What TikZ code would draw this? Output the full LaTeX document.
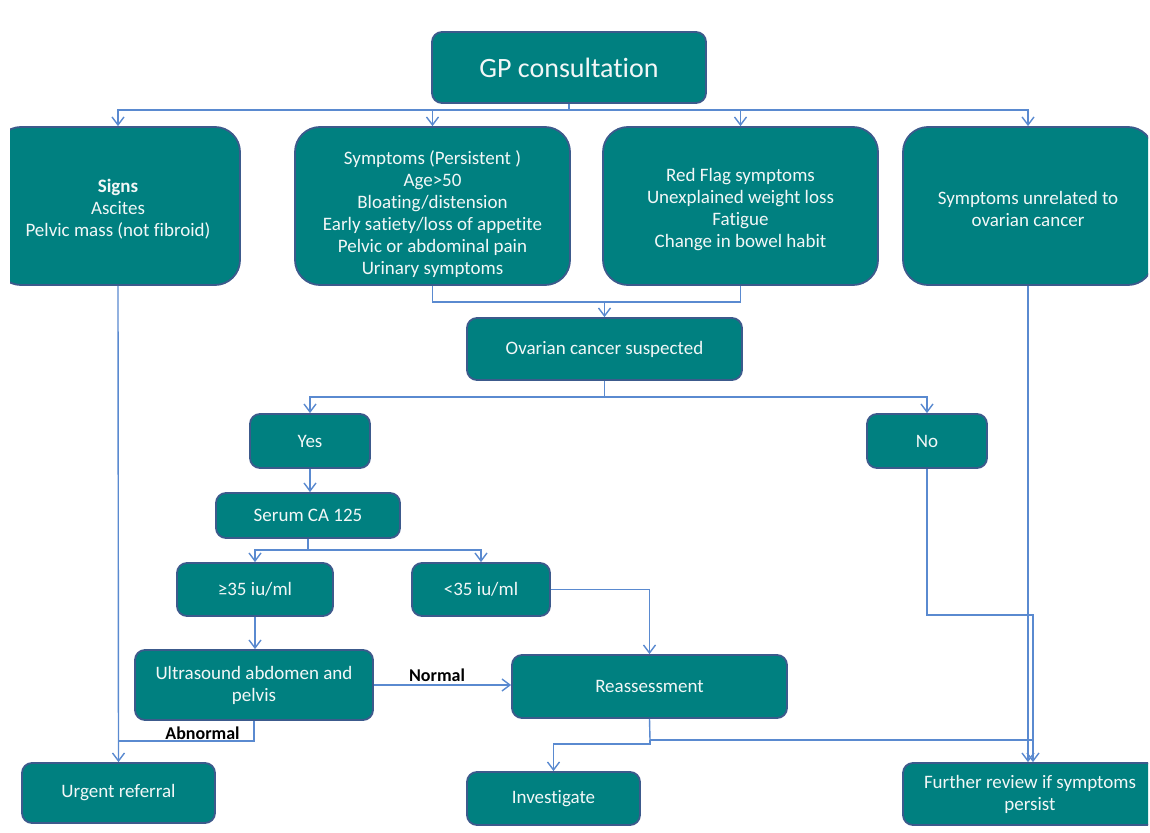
\documentclass[tikz,border=0pt]{standalone}
\usepackage{fontspec}
\setmainfont{Carlito}[RawFeature={-liga;-clig;-calt;-dlig}]
\usetikzlibrary{arrows.meta}
\definecolor{boxfill}{HTML}{008080}
\definecolor{boxedge}{HTML}{3C5A8C}
\definecolor{boxtext}{HTML}{F2F7F7}
\definecolor{conn}{HTML}{5A8AD0}
\tikzset{
  box/.style={rectangle, rounded corners=10pt, fill=boxfill, draw=boxedge, line width=1.8pt,
    text=boxtext, align=center, inner sep=0pt, font=\fontsize{19}{22}\selectfont},
  bigbox/.style={box, rounded corners=25pt},
  line/.style={draw=conn, line width=1.4pt},
  arr/.style={line, -{Straight Barb[length=8pt,width=12pt,line width=1.4pt]}},
  lbl/.style={font=\bfseries\fontsize{18}{20}\selectfont, text=black, inner sep=0pt}
}
\begin{document}
\begin{tikzpicture}[x=1pt,y=-1pt]
\useasboundingbox (0,0) rectangle (1150,832);
\fill[white] (0,0) rectangle (1150,832);
\begin{scope}
\clip (10,0) rectangle (1148,832);
% nodes
\node[box, minimum width=274pt, minimum height=71pt, font=\fontsize{28}{32}\selectfont] (gp) at (569,67.5) {GP consultation};
\node[bigbox, minimum width=244pt, minimum height=158pt] (signs) at (118,206) {\rule{0pt}{19pt}\textbf{Signs}\\Ascites\\Pelvic mass (not fibroid)};
\node[bigbox, minimum width=275pt, minimum height=158pt] (sym) at (432.5,206) {\rule{0pt}{30pt}Symptoms (Persistent )\\Age>50\\Bloating/distension\\Early satiety/loss of appetite\\Pelvic or abdominal pain\\Urinary symptoms};
\node[bigbox, minimum width=275pt, minimum height=158pt] (red) at (740.5,206) {\rule{0pt}{20pt}Red Flag symptoms\\Unexplained weight loss\\Fatigue\\Change in bowel habit};
\node[bigbox, minimum width=250pt, minimum height=158pt] (unrel) at (1028,206) {\rule{0pt}{19pt}Symptoms unrelated to\\ovarian cancer};
\node[box, minimum width=275pt, minimum height=62pt] (ovar) at (604.5,349) {Ovarian cancer suspected};
\node[box, minimum width=120pt, minimum height=54pt] (yes) at (310,441) {Yes};
\node[box, minimum width=120pt, minimum height=54pt] (no) at (927,441) {No};
\node[box, minimum width=184pt, minimum height=45pt] (serum) at (308,515.5) {Serum CA 125};
\node[box, minimum width=156pt, minimum height=53pt] (ge) at (255,589.5) {≥35 iu/ml};
\node[box, minimum width=138pt, minimum height=53pt] (lt) at (481,589.5) {<35 iu/ml};
\node[box, minimum width=238pt, minimum height=70pt] (us) at (254,685) {Ultrasound abdomen and\\pelvis};
\node[box, minimum width=275pt, minimum height=63pt] (re) at (649.5,686.5) {Reassessment};
\node[box, minimum width=193pt, minimum height=60pt] (urgent) at (118.5,793) {Urgent referral};
\node[box, minimum width=173pt, minimum height=53pt] (inv) at (553.5,798.5) {Investigate};
\node[box, minimum width=254pt, minimum height=62pt] (fur) at (1030,794) {Further review if symptoms\\persist};
% junctions
\coordinate (j1) at (569,110);
\coordinate (j2) at (604.5,302);
\coordinate (j3) at (604.5,397);
\coordinate (j4) at (308,550);
\coordinate (j5) at (254,741);
\coordinate (j6) at (650,740);
\coordinate (j7) at (1033,615);
% connectors
\draw[line] (gp.south) -- (j1);
\draw[arr] (j1) -| (signs.north);
\draw[arr] (j1) -| (sym.north);
\draw[arr] (j1) -| (red.north);
\draw[arr] (j1) -| (unrel.north);
\draw[line] (sym.south) |- (j2) -| (red.south);
\draw[arr] (j2) -- (ovar.north);
\draw[line] (ovar.south) -- (j3);
\draw[arr] (j3) -| (yes.north);
\draw[arr] (j3) -| (no.north);
\draw[arr] (yes.south) -- (yes.south |- serum.north);
\draw[line] (serum.south) -- (j4);
\draw[arr] (j4) -| (ge.north);
\draw[arr] (j4) -| (lt.north);
\draw[arr] (ge.south) -- (ge.south |- us.north);
\draw[arr] (lt.east) -| (re.north);
\draw[arr] (us.east) -- (us.east -| re.west) node[lbl, pos=0.46, above=3pt] {Normal};
\draw[arr] (signs.south) -- (urgent.north);
\draw[line] (us.south) -- (j5) -- (j5 -| urgent.north) node[lbl, pos=0.38, above=1pt] {Abnormal};
\draw[line] (re.south) -- (j6);
\draw[arr] (j6) -- ++(0,4) -| (inv.north);
\draw[line] (j6) -- (j6 -| j7);
\draw[arr] (unrel.south) -- (unrel.south |- fur.north);
\draw[arr] (no.south) |- (j7) -- (j7 |- fur.north);
\end{scope}
\end{tikzpicture}
\end{document}
